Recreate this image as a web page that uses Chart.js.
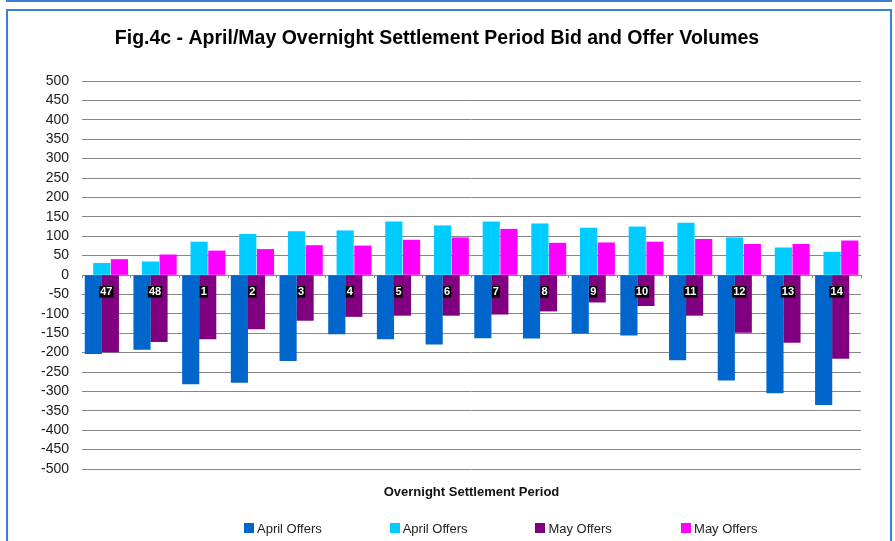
<!DOCTYPE html>
<html>
<head>
<meta charset="utf-8">
<script src="https://cdn.jsdelivr.net/npm/chart.js@4.4.1/dist/chart.umd.min.js"></script>
<style>
  html, body { margin: 0; padding: 0; background: #fff; }
  #wrap { position: relative; width: 895px; height: 541px; overflow: hidden; font-family: 'Liberation Sans', Arial, sans-serif; }
  .frame { position: absolute; border: 2px solid #3d7fd6; box-sizing: border-box; }
  #frameTop { left: 6px; top: -20px; width: 886px; height: 22px; }
  #frameMain { left: 6px; top: 9px; width: 886px; height: 600px; }
  #chart { position: absolute; left: 0; top: 0; }
  #legend { position: absolute; left: 244px; top: 520px; display: flex; font-size: 13px; color: #222; }
  #legend .item { width: 145.7px; display: flex; align-items: center; height: 16px; }
  #legend .swatch { width: 10px; height: 10px; margin-right: 3px; }
</style>
</head>
<body>
<div id="wrap">
  <div class="frame" id="frameTop"></div>
  <div class="frame" id="frameMain"></div>
  <canvas id="chart" width="895" height="541"></canvas>
  <div id="legend"></div>
</div>
<script>
const periods = ['47', '48', '1', '2', '3', '4', '5', '6', '7', '8', '9', '10', '11', '12', '13', '14'];
const aprilBids = [-203, -192, -281, -277, -221, -152, -165, -178, -162, -163, -150, -155, -219, -271, -304, -334];
const aprilOffers = [30, 34, 85, 105, 112, 114, 137, 127, 137, 132, 121, 124, 134, 96, 70, 59];
const mayBids = [-198, -172, -165, -139, -117, -107, -104, -104, -101, -93, -70, -79, -104, -148, -174, -215];
const mayOffers = [40, 52, 62, 66, 76, 75, 90, 96, 118, 82, 83, 85, 92, 79, 79, 88];
const seriesLabels = ['April Offers', 'April Offers', 'May Offers', 'May Offers'];
const seriesColors = ['#0066CC', '#00CCFF', '#800080', '#FF00FF'];
const yMin = -500, yMax = 500, yStep = 50;

// excel staggers the four bars: bids and offers overlap by half a bar.
// each series gets its own hidden x scale, nudged by a fraction of a category
const seriesOffset = [-0.267, -0.095, 0.082, 0.269];

Chart.defaults.font.family = "'Liberation Sans', Arial, sans-serif";

const toPoints = vals => vals.map((v, i) => ({ x: i, y: v }));

function bar(idx, vals) {
  return {
    label: seriesLabels[idx],
    data: toPoints(vals),
    backgroundColor: seriesColors[idx],
    xAxisID: 'xS' + idx,
    barThickness: 16.5,
    grouped: false,
  };
}

function seriesAxis(idx, extra) {
  return Object.assign({
    type: 'linear',
    axis: 'x',
    display: false,
    bounds: 'data',
    offset: false,
    min: -0.5 - seriesOffset[idx],
    max: periods.length - 0.5 - seriesOffset[idx],
    ticks: { stepSize: 1, includeBounds: false, display: false },
    grid: { display: false, drawTicks: false },
    border: { display: false },
  }, extra);
}

const chart = new Chart(document.getElementById('chart'), {
  type: 'bar',
  data: {
    datasets: [
      bar(0, aprilBids),
      bar(1, aprilOffers),
      bar(2, mayBids),
      bar(3, mayOffers),
    ],
  },
  options: {
    responsive: false,
    animation: false,
    layout: { padding: { left: 13, right: 34, top: 0, bottom: 36.4 } },
    plugins: {
      legend: { display: false },
      tooltip: { enabled: false },
      title: {
        display: true,
        text: 'Fig.4c - April/May Overnight Settlement Period Bid and Offer Volumes',
        font: { size: 19.5, weight: 'bold' },
        color: '#000',
        padding: { top: 27.3, bottom: 30.3 },
      },
    },
    scales: {
      xS0: seriesAxis(0),
      xS1: seriesAxis(1, {
        display: true,
        position: 'bottom',
        title: {
          display: true,
          text: 'Overnight Settlement Period',
          font: { size: 13, weight: 'bold' },
          color: '#111',
          padding: { top: 16, bottom: 4 },
        },
      }),
      xS2: seriesAxis(2),
      xS3: seriesAxis(3),
      xLabels: {
        type: 'category',
        axis: 'x',
        labels: periods,
        offset: true,
        position: { y: 0 },
        grid: { drawOnChartArea: false, offset: true, tickLength: 3, color: '#8c8c8c', z: 1 },
        border: { display: false },
        ticks: {
          z: 1,
          autoSkip: false,
          maxRotation: 0,
          padding: 8,
          color: '#fff',
          font: { size: 11, weight: 'bold', lineHeight: 1.05 },
          showLabelBackdrop: true,
          backdropColor: '#000',
          backdropPadding: { x: 1, y: 0 },
        },
      },
      y: {
        min: yMin,
        max: yMax,
        ticks: { stepSize: yStep, autoSkip: false, font: { size: 14 }, color: '#1a1a1a', padding: 13 },
        grid: { color: '#868686', drawTicks: false },
        border: { display: false },
        afterFit: s => { s.width = 69; },
      },
    },
  },
});

const legendEl = document.getElementById('legend');
chart.data.datasets.forEach(ds => {
  const item = document.createElement('div');
  item.className = 'item';
  const sw = document.createElement('span');
  sw.className = 'swatch';
  sw.style.background = ds.backgroundColor;
  const txt = document.createElement('span');
  txt.textContent = ds.label;
  item.append(sw, txt);
  legendEl.appendChild(item);
});
</script>
</body>
</html>
